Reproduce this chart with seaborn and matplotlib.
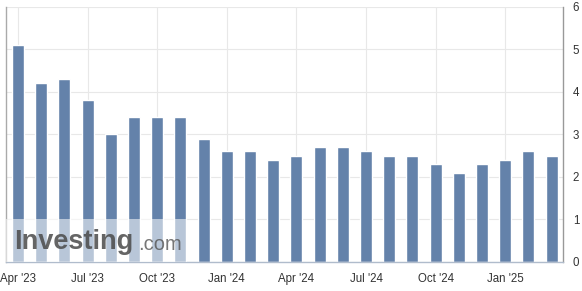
import matplotlib
matplotlib.use("Agg")
import matplotlib.pyplot as plt
import seaborn as sns
import pandas as pd
from matplotlib.patches import Rectangle

months = ["Apr '23", "May '23", "Jun '23", "Jul '23", "Aug '23", "Sep '23", "Oct '23", "Nov '23",
          "Dec '23", "Jan '24", "Feb '24", "Mar '24", "Apr '24", "May '24", "Jun '24", "Jul '24",
          "Aug '24", "Sep '24", "Oct '24", "Nov '24", "Dec '24", "Jan '25", "Feb '25", "Mar '25"]
values = [5.1, 4.2, 4.3, 3.8, 3.0, 3.4, 3.4, 3.4, 2.9, 2.6, 2.6, 2.4,
          2.5, 2.7, 2.7, 2.6, 2.5, 2.5, 2.3, 2.1, 2.3, 2.4, 2.6, 2.5]
tick_labels = ["Apr '23", "Jul '23", "Oct '23", "Jan '24", "Apr '24", "Jul '24", "Oct '24", "Jan '25"]
y_ticks = [0, 1, 2, 3, 4, 5, 6]

sns.set_style("white")
plt.rcParams['font.family'] = ['Liberation Sans', 'DejaVu Sans']

df = pd.DataFrame({"month": months, "value": values})

fig = plt.figure(figsize=(5.82, 2.91), dpi=100)
ax = fig.add_axes([6/582, 29/291, (563-6)/582, (262-6.5)/291])

sns.barplot(data=df, x="month", y="value", order=months, color="#6482aa",
            saturation=1, width=0.52, ax=ax, zorder=2)

ax.set_xlim(-0.52, 23.49)
ax.set_ylim(0, 6)
ax.set_xlabel("")
ax.set_ylabel("")

tick_pos = [months.index(t) for t in tick_labels]
ax.set_xticks(tick_pos)
ax.set_xticklabels(tick_labels)
ax.set_yticks(y_ticks)
ax.yaxis.tick_right()
ax.tick_params(axis="y", length=0, pad=7, labelsize=8.3, labelcolor="#333333")
ax.tick_params(axis="x", length=0, pad=8, labelsize=8.3, labelcolor="#333333")

ax.grid(True, color="#e8e8e8", linewidth=0.8, zorder=0)
ax.set_axisbelow(True)

ax.spines["top"].set_visible(False)
ax.spines["left"].set_color("#aaaaaa")
ax.spines["right"].set_color("#999999")
ax.spines["bottom"].set_color("#b0bccc")
for s in ["left", "right", "bottom"]:
    ax.spines[s].set_linewidth(1)

# watermark
ax.add_patch(Rectangle((0.0, 0.0), 0.325, 1/6, transform=ax.transAxes,
                       facecolor="white", alpha=0.55, edgecolor="none", zorder=3))
ax.text(0.014, 0.078, "Investing", transform=ax.transAxes, fontsize=19.5, fontweight="bold",
        color="#4a4a4a", alpha=0.85, va="center", ha="left", zorder=4)
ax.text(0.238, 0.07, ".com", transform=ax.transAxes, fontsize=14.5,
        color="#555555", alpha=0.8, va="center", ha="left", zorder=4)

fig.savefig("out.png", dpi=100)
